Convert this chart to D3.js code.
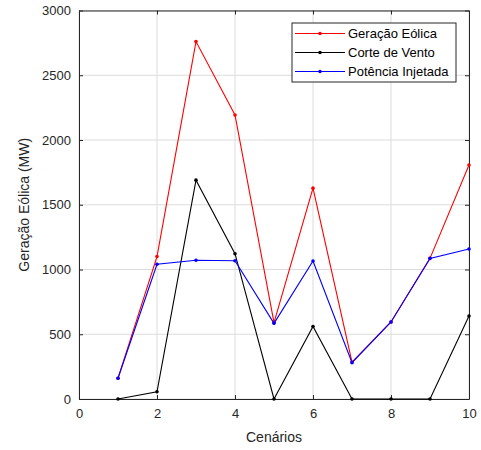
<!DOCTYPE html>
<html>
<head>
<meta charset="utf-8">
<script src="https://cdn.jsdelivr.net/npm/d3@7"></script>
<style>
  body { margin: 0; background: #fff; }
  text { font-family: "Liberation Sans", Arial, sans-serif; }
</style>
</head>
<body>
<div id="chart"></div>
<script>
const cenarios = [1, 2, 3, 4, 5, 6, 7, 8, 9, 10];
const geracaoEolica = [160, 1100, 2760, 2193, 590, 1628, 285, 595, 1086, 1807];
const corteVento = [0, 56, 1690, 1122, 0, 560, 0, 0, 0, 641];
const potenciaInjetada = [160, 1040, 1071, 1068, 584, 1066, 280, 595, 1086, 1158];
const xTicks = [0, 2, 4, 6, 8, 10];
const yTicks = [0, 500, 1000, 1500, 2000, 2500, 3000];

const series = [
    {name: "Geração Eólica", values: geracaoEolica, color: "#ff0000"},
    {name: "Corte de Vento", values: corteVento, color: "#000000"},
    {name: "Potência Injetada", values: potenciaInjetada, color: "#0000ff"}
];

const margin = {top: 10.5, right: 12, bottom: 51, left: 79};
const W = 481, H = 450;
const width = W - margin.left - margin.right;
const height = H - margin.top - margin.bottom;
const axisColor = "#262626";

const svg = d3.select("#chart")
    .append("svg")
    .attr("width", W)
    .attr("height", H)
    .append("g")
    .attr("transform", "translate(" + margin.left + "," + margin.top + ")");

const x = d3.scaleLinear().domain([0, 10]).range([0, width]);
const y = d3.scaleLinear().domain([0, 3000]).range([height, 0]);

// grid lines
svg.append("g")
    .selectAll("line.vgrid")
    .data(xTicks)
    .enter().append("line")
    .attr("x1", d => x(d)).attr("x2", d => x(d))
    .attr("y1", 0).attr("y2", height)
    .attr("stroke", "#dcdcdc").attr("stroke-width", 1);

svg.append("g")
    .selectAll("line.hgrid")
    .data(yTicks)
    .enter().append("line")
    .attr("x1", 0).attr("x2", width)
    .attr("y1", d => y(d)).attr("y2", d => y(d))
    .attr("stroke", "#dcdcdc").attr("stroke-width", 1);

// axes (ticks pointing inward, like matlab)
const fmt = d3.format("d");

const xAxis = svg.append("g")
    .attr("transform", `translate(0, ${height})`)
    .call(d3.axisBottom(x).tickValues(xTicks).tickFormat(fmt).tickSizeInner(-4).tickSizeOuter(0).tickPadding(10));

const xAxisTop = svg.append("g")
    .call(d3.axisTop(x).tickValues(xTicks).tickSizeInner(-4).tickSizeOuter(0).tickFormat(""));

const yAxis = svg.append("g")
    .call(d3.axisLeft(y).tickValues(yTicks).tickFormat(fmt).tickSizeInner(-4).tickSizeOuter(0).tickPadding(8));

const yAxisRight = svg.append("g")
    .attr("transform", `translate(${width}, 0)`)
    .call(d3.axisRight(y).tickValues(yTicks).tickSizeInner(-4).tickSizeOuter(0).tickFormat(""));

[xAxis, xAxisTop, yAxis, yAxisRight].forEach(a => {
    a.select(".domain").attr("stroke", axisColor);
    a.selectAll(".tick line").attr("stroke", axisColor);
    a.selectAll(".tick text")
        .attr("fill", axisColor)
        .style("font-size", "13px")
        .style("font-family", "'Liberation Sans', Arial, sans-serif");
});

svg.append("text")
    .attr("text-anchor", "middle")
    .attr("x", width / 2)
    .attr("y", height + 43)
    .attr("fill", axisColor)
    .style("font-size", "14px")
    .text("Cenários");

svg.append("text")
    .attr("text-anchor", "middle")
    .attr("transform", "rotate(-90)")
    .attr("x", -height / 2)
    .attr("y", -50)
    .attr("fill", axisColor)
    .style("font-size", "14px")
    .text("Geração Eólica (MW)");

// lines and markers
const line = d3.line()
    .x((d, i) => x(cenarios[i]))
    .y(d => y(d));

series.forEach(s => {
    svg.append("path")
        .datum(s.values)
        .attr("fill", "none")
        .attr("stroke", s.color)
        .attr("stroke-width", 1.1)
        .attr("d", line);

    svg.append("g")
        .selectAll("circle")
        .data(s.values)
        .enter().append("circle")
        .attr("cx", (d, i) => x(cenarios[i]))
        .attr("cy", d => y(d))
        .attr("r", 1.8)
        .attr("fill", s.color);
});

// legend
const lg = svg.append("g")
    .attr("transform", `translate(${292 - margin.left}, ${23 - margin.top})`);

lg.append("rect")
    .attr("width", 164)
    .attr("height", 59)
    .attr("fill", "#fff")
    .attr("stroke", axisColor)
    .attr("stroke-width", 1);

const items = lg.selectAll(".legend")
    .data(series)
    .enter().append("g")
    .attr("class", "legend")
    .attr("transform", (d, i) => `translate(0, ${10.5 + i * 19})`);

items.append("line")
    .attr("x1", 3).attr("x2", 53)
    .attr("stroke", d => d.color)
    .attr("stroke-width", 1.1);

items.append("circle")
    .attr("cx", 28)
    .attr("r", 1.8)
    .attr("fill", d => d.color);

items.append("text")
    .attr("x", 56)
    .attr("dy", "0.35em")
    .attr("fill", "#000")
    .style("font-size", "13px")
    .text(d => d.name);
</script>
</body>
</html>
